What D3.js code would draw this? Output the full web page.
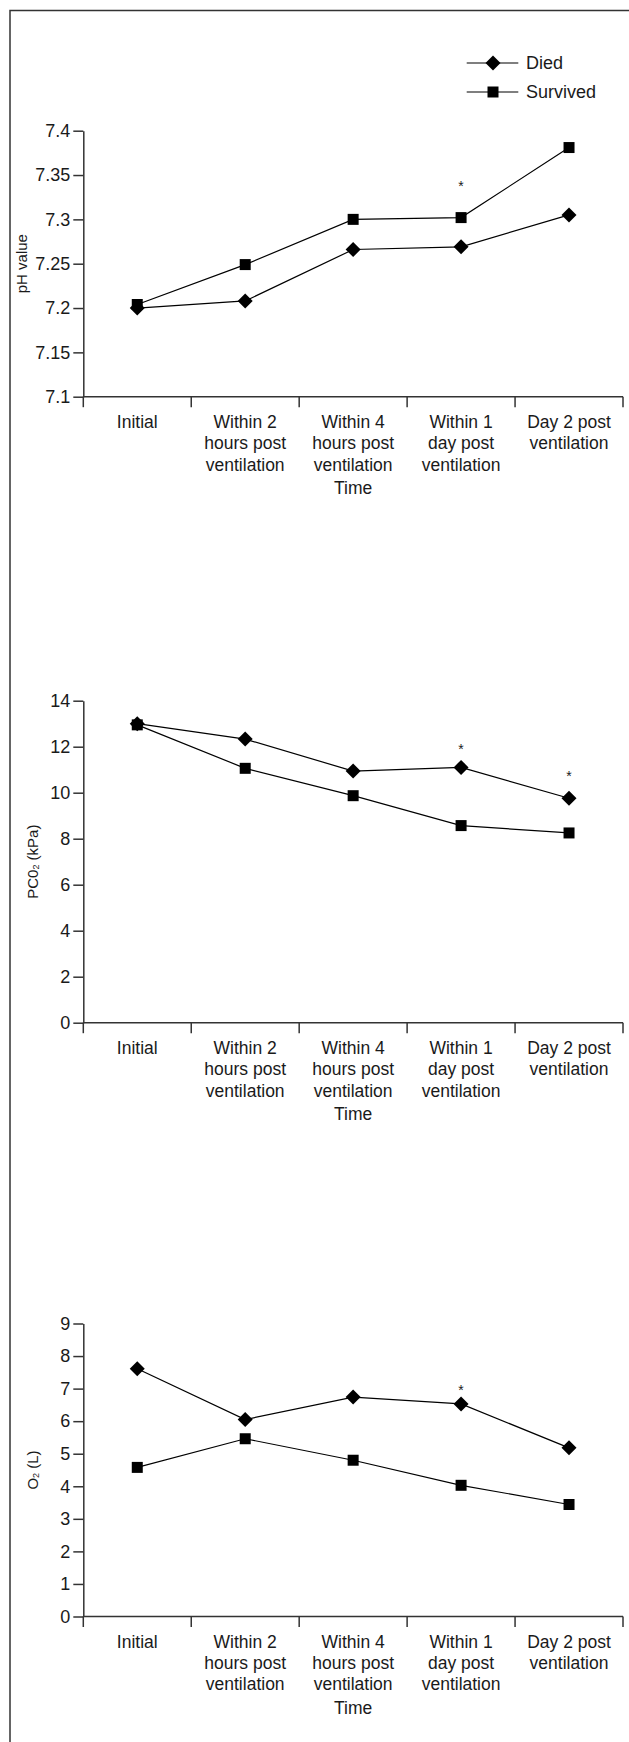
<!DOCTYPE html>
<html>
<head>
<meta charset="utf-8">
<script src="https://cdn.jsdelivr.net/npm/d3@7"></script>
<style>
  html, body { margin: 0; padding: 0; background: #fff; }
  svg { display: block; font-family: "Liberation Sans", Arial, sans-serif; }
</style>
</head>
<body>
<svg id="chart" width="629" height="1742"></svg>
<script>
// ---------- data ----------
const categories = [
  ["Initial"],
  ["Within 2", "hours post", "ventilation"],
  ["Within 4", "hours post", "ventilation"],
  ["Within 1", "day post", "ventilation"],
  ["Day 2 post", "ventilation"]
];
const seriesNames = ["Died", "Survived"];

const phDied     = [7.200, 7.208, 7.266, 7.269, 7.305];
const phSurvived = [7.204, 7.249, 7.300, 7.302, 7.381];
const phTicks    = [7.1, 7.15, 7.2, 7.25, 7.3, 7.35, 7.4];
const phTickLabels = ["7.1", "7.15", "7.2", "7.25", "7.3", "7.35", "7.4"];
const phStars    = [{ i: 3, v: 7.341 }];

const pco2Died     = [13.0, 12.33, 10.94, 11.10, 9.76];
const pco2Survived = [12.95, 11.06, 9.87, 8.57, 8.25];
const pco2Ticks    = [0, 2, 4, 6, 8, 10, 12, 14];
const pco2TickLabels = ["0", "2", "4", "6", "8", "10", "12", "14"];
const pco2Stars    = [{ i: 3, v: 12.04 }, { i: 4, v: 10.87 }];

const o2Died     = [7.61, 6.05, 6.74, 6.53, 5.18];
const o2Survived = [4.58, 5.46, 4.80, 4.03, 3.44];
const o2Ticks    = [0, 1, 2, 3, 4, 5, 6, 7, 8, 9];
const o2TickLabels = ["0", "1", "2", "3", "4", "5", "6", "7", "8", "9"];
const o2Stars    = [{ i: 3, v: 7.06 }];

// ---------- layout ----------
const svg = d3.select("#chart");
const X0 = 83.3, X1 = 623;
const INK = "#1a1a1a";
const AXIS = "#333";

// frame (right/bottom edges outside the picture)
svg.append("rect")
  .attr("x", 10).attr("y", 10.5)
  .attr("width", 700).attr("height", 1800)
  .attr("fill", "none").attr("stroke", "#333").attr("stroke-width", 1.5);

const x = d3.scaleBand().domain(d3.range(categories.length)).range([X0, X1]).padding(0);

function diamondPath(r) {
  return `M0,${-r}L${r},0L0,${r}L${-r},0Z`;
}

function drawChart(cfg) {
  const y = d3.scaleLinear().domain(cfg.domain).range([cfg.bottom, cfg.top]);
  const g = svg.append("g");

  // y axis
  const yAxis = d3.axisLeft(y).tickValues(cfg.ticks)
    .tickFormat((d, i) => cfg.tickLabels[i]).tickSize(10).tickPadding(3).tickSizeOuter(0);
  const ya = g.append("g").attr("transform", `translate(${X0},0)`).call(yAxis);
  ya.select(".domain").attr("stroke", AXIS).attr("stroke-width", 1.5);
  ya.selectAll(".tick line").attr("stroke", AXIS).attr("stroke-width", 1.5);
  ya.selectAll(".tick text").attr("fill", INK).attr("font-size", 18)
    .attr("font-family", "Liberation Sans, Arial, sans-serif");

  // x axis with band-boundary ticks
  const xa = g.append("g").attr("transform", `translate(0,${cfg.bottom})`);
  xa.append("line").attr("x1", X0).attr("x2", X1).attr("y1", 0).attr("y2", 0)
    .attr("stroke", AXIS).attr("stroke-width", 1.5);
  const bounds = categories.map((c, i) => x(i)).concat([x(categories.length - 1) + x.bandwidth()]);
  xa.selectAll("line.tk").data(bounds).join("line").attr("class", "tk")
    .attr("x1", d => d).attr("x2", d => d).attr("y1", 0).attr("y2", 10.5)
    .attr("stroke", AXIS).attr("stroke-width", 1.5);
  const labels = xa.selectAll("text.cat").data(categories).join("text").attr("class", "cat")
    .attr("x", (d, i) => x(i) + x.bandwidth() / 2)
    .attr("text-anchor", "middle").attr("font-size", 17.5).attr("fill", INK);
  labels.each(function (lines) {
    const t = d3.select(this);
    lines.forEach((ln, k) => {
      t.append("tspan").attr("x", t.attr("x")).attr("y", 31.5 + k * 21.2).text(ln);
    });
  });
  xa.append("text").attr("x", (X0 + X1) / 2).attr("y", 31.5 + 3 * 21.2 + 2)
    .attr("text-anchor", "middle").attr("font-size", 17.5).attr("fill", INK).text("Time");

  // y title
  const yt = g.append("text")
    .attr("transform", `translate(${cfg.titleX},${(cfg.top + cfg.bottom) / 2}) rotate(-90)`)
    .attr("text-anchor", "middle").attr("dominant-baseline", "central")
    .attr("font-size", 15).attr("fill", INK);
  cfg.title(yt);

  // lines and markers
  const line = d3.line().x((d, i) => x(i) + x.bandwidth() / 2).y(d => y(d));
  const series = [
    { name: seriesNames[0], values: cfg.died, marker: "diamond" },
    { name: seriesNames[1], values: cfg.survived, marker: "square" }
  ];
  series.forEach(s => {
    g.append("path").attr("d", line(s.values)).attr("fill", "none")
      .attr("stroke", "#000").attr("stroke-width", 1.2);
  });
  series.slice().reverse().forEach(s => {
    g.selectAll(null).data(s.values).join("path")
      .attr("transform", (d, i) => `translate(${x(i) + x.bandwidth() / 2},${y(d)})`)
      .attr("d", s.marker === "diamond" ? diamondPath(7.5) : "M-5.5,-5.5H5.5V5.5H-5.5Z")
      .attr("fill", "#000");
  });

  // significance asterisks
  g.selectAll(null).data(cfg.stars).join("text")
    .attr("x", d => x(d.i) + x.bandwidth() / 2)
    .attr("y", d => y(d.v) + 8)
    .attr("text-anchor", "middle").attr("font-size", 14).attr("fill", INK).text("*");
}

drawChart({
  domain: [7.1, 7.4], top: 130.7, bottom: 396.7,
  ticks: phTicks, tickLabels: phTickLabels,
  died: phDied, survived: phSurvived, stars: phStars,
  titleX: 21,
  title: t => t.text("pH value")
});

drawChart({
  domain: [0, 14], top: 700.7, bottom: 1022.7,
  ticks: pco2Ticks, tickLabels: pco2TickLabels,
  died: pco2Died, survived: pco2Survived, stars: pco2Stars,
  titleX: 31.5,
  title: t => {
    t.append("tspan").text("PC0");
    t.append("tspan").attr("font-size", 9).attr("dy", 4).text("2");
    t.append("tspan").attr("dy", -4).text(" (kPa)");
  }
});

drawChart({
  domain: [0, 9], top: 1323.5, bottom: 1616.5,
  ticks: o2Ticks, tickLabels: o2TickLabels,
  died: o2Died, survived: o2Survived, stars: o2Stars,
  titleX: 31.5,
  title: t => {
    t.append("tspan").text("O");
    t.append("tspan").attr("font-size", 9).attr("dy", 4).text("2");
    t.append("tspan").attr("dy", -4).text(" (L)");
  }
});

// legend
const legend = svg.append("g");
const legendRows = [
  { name: seriesNames[0], marker: "diamond", y: 63 },
  { name: seriesNames[1], marker: "square", y: 92 }
];
legendRows.forEach(r => {
  legend.append("line").attr("x1", 466.7).attr("x2", 518.3).attr("y1", r.y).attr("y2", r.y)
    .attr("stroke", "#000").attr("stroke-width", 1.2);
  legend.append("path").attr("transform", `translate(493,${r.y})`)
    .attr("d", r.marker === "diamond" ? diamondPath(7.5) : "M-5.5,-5.5H5.5V5.5H-5.5Z")
    .attr("fill", "#000");
  legend.append("text").attr("x", 526).attr("y", r.y).attr("dominant-baseline", "central")
    .attr("font-size", 18).attr("fill", INK).text(r.name);
});
</script>
</body>
</html>
